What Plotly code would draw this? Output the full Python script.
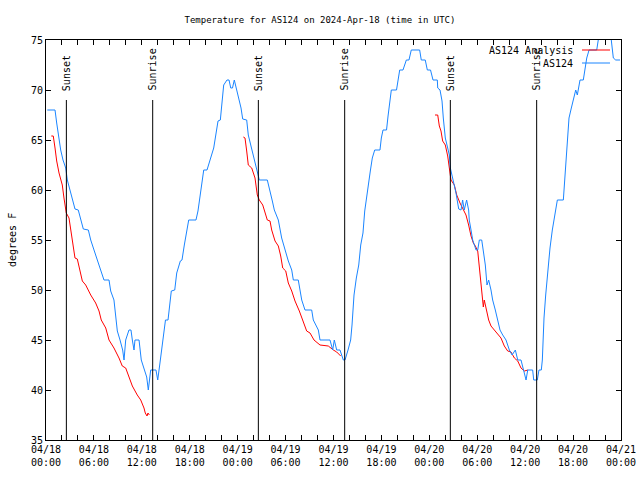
import pandas as pd
import plotly.graph_objects as go

# ---------------- data ----------------
start = "2024-04-18 00:00"

# AS124 observations: hours after 04/18 00:00 UTC, temperature (F)
obs_hours = [0.16, 1.13, 1.34, 1.63, 1.84, 2.13, 2.47, 2.67, 3.01, 3.29, 3.63, 4.04, 4.42, 4.67, 5.30,
             5.60, 6.01, 6.42, 6.92, 7.26, 7.89, 8.10, 8.51, 8.73, 8.93, 9.27, 9.60, 9.77, 9.98, 10.39,
             10.64, 10.81, 11.02, 11.14, 11.65, 11.93, 12.18, 12.61, 12.81, 13.11, 13.77, 13.99, 14.27,
             14.61, 14.96, 15.28, 15.69, 16.12, 16.37, 16.82, 17.03, 17.32, 17.87, 18.78, 19.03, 19.75,
             20.16, 21.00, 21.54, 21.83, 22.25, 22.66, 22.92, 23.13, 23.35, 23.58, 23.92, 24.42, 24.63,
             25.13, 25.33, 25.76, 26.05, 26.38, 26.71, 27.71, 28.05, 28.34, 28.59, 29.09, 29.51, 29.93,
             30.34, 30.77, 30.97, 31.59, 32.02, 32.43, 33.27, 33.47, 34.10, 34.31, 35.56, 35.90, 36.10,
             36.40, 36.81, 37.23, 37.44, 37.82, 38.15, 38.32, 38.57, 38.86, 39.16, 39.41, 39.69, 39.91,
             40.32, 40.61, 40.86, 41.16, 41.82, 41.99, 42.20, 42.64, 42.83, 43.24, 43.89, 44.29, 44.70,
             45.12, 45.45, 45.74, 46.79, 46.99, 47.49, 47.75, 48.15, 48.46, 49.00, 49.05, 49.34, 49.59,
             49.75, 50.00, 50.30, 50.50, 50.63, 50.93, 51.13, 51.34, 51.55, 51.68, 51.97, 52.17, 52.37,
             52.67, 52.92, 53.00, 53.22, 53.43, 53.85, 54.06, 54.26, 54.56, 54.76, 55.01, 55.22, 55.43,
             55.72, 55.93, 56.26, 56.56, 56.85, 57.19, 57.60, 58.02, 58.36, 58.77, 59.07, 59.48, 59.77,
             60.11, 60.32, 60.94, 61.07, 61.52, 61.73, 62.02, 62.15, 62.36, 62.57, 62.86, 63.11, 63.40,
             63.74, 64.03, 64.78, 64.95, 65.20, 65.49, 65.78, 66.12, 66.33, 66.53, 66.87, 67.28, 67.46,
             67.71, 68.00, 68.96, 69.25, 70.71, 71.04, 71.34, 71.88]
obs_temps = [68, 68, 66.7, 65.2, 64, 63, 62.2, 61, 59.9, 59, 58.1, 58, 57, 56.1, 56,
             55, 54, 53, 52, 51, 51, 49.9, 49, 47.5, 45.9, 45, 44, 43, 45, 46,
             46, 45, 44, 45, 45, 43, 42.4, 41.3, 40, 42, 42, 41, 42.7,
             45, 47, 47, 49.9, 50, 51.7, 52.9, 53, 54.5, 57, 57, 57.9, 62,
             62, 64.2, 66.9, 67, 70.5, 71, 71, 70.2, 70.2, 71, 69.9, 68.2, 67.1,
             67, 65.5, 64, 63, 62, 61, 61, 60, 58.9, 58, 57, 55.2, 54,
             52.9, 52, 51, 51, 49, 48, 48, 47, 46, 45, 45, 44, 45,
             44, 44, 43, 43, 44, 45, 46.5, 49.5, 51.2, 52.5, 54.5, 55.7, 57.9,
             60.5, 61.9, 63.2, 64, 64, 65.2, 66, 66, 67.4, 70, 70, 72, 72,
             73, 73, 74, 74, 73, 73, 72, 72, 71, 71, 70.2, 70, 68.9,
             67.2, 65.2, 64.2, 63.5, 62.2, 61.2, 60.5, 59.7, 58.7, 58.1, 58, 59, 58,
             59, 58, 57, 56, 55, 54, 54, 55, 55, 53.9, 52.5, 50.5, 51,
             50, 49, 48, 47, 46, 45.5, 45, 44, 43.5, 44, 43, 43, 42,
             41, 42, 42, 41, 41, 42, 42, 43, 47.2, 49.5, 52.2, 54.2, 56,
             57.5, 59, 59, 61.2, 63.5, 67.2, 68.2, 69.2, 70, 69.5, 71, 71, 72,
             73.2, 74, 74, 75.5, 75.5, 73.2, 73, 73]

# AS124 Analysis (night-time only; None separates nights)
ana_hours = [0.66, 0.91, 1.13, 1.34, 1.63, 1.84, 2.04, 2.25, 2.54, 2.88, 3.09, 3.38, 3.63, 3.92, 4.22,
             4.55, 4.97, 5.60, 6.22, 6.64, 6.92, 7.48, 7.89, 8.51, 9.14, 9.55, 9.98, 10.39, 10.81,
             11.43, 11.86, 12.27, 12.43, 12.65, 12.77, 12.94, 12.95,
             24.71, 24.92, 25.13, 25.33, 25.76, 26.17, 26.46, 26.71, 27.14, 27.42, 27.71, 28.05, 28.26,
             28.68, 29.09, 29.39, 29.64, 30.02, 30.34, 30.77, 31.18, 31.72, 32.14, 32.64, 33.06, 33.56,
             34.31, 35.35, 35.98, 36.40, 36.90, 36.91,
             48.71, 49.05, 49.25, 49.46, 49.67, 50.00, 50.30, 50.50, 50.71, 51.13, 51.43, 51.84, 52.17,
             52.59, 52.92, 53.22, 53.51, 53.76, 54.06, 54.26, 54.47, 54.68, 54.76, 54.88, 55.09, 55.43,
             55.72, 56.13, 56.56, 56.97, 57.39, 57.81, 58.23, 58.65, 59.07, 59.48, 59.90, 60.36]
ana_temps = [65.4, 65.4, 64.2, 62.9, 61.7, 61.2, 60.5, 59.2, 57.7, 57.2, 56, 54.4, 53.2, 53.1, 51.9,
             50.9, 50.5, 49.5, 48.7, 47.9, 47, 46.2, 45, 44.2, 43.2, 42.4, 42.2, 41.2, 40.4,
             39.5, 39, 38.2, 37.7, 37.4, 37.7, 37.5, None,
             65.3, 65.2, 63.9, 62.5, 62.2, 61.2, 59.5, 59, 58.5, 57.7, 57, 56.9, 56,
             54.9, 54.4, 53.4, 52.2, 51.9, 50.7, 49.9, 48.9, 47.9, 47, 45.9, 45.7, 45,
             44.5, 44.4, 44, 43.8, 43.4, None,
             67.5, 67.5, 66.4, 65.9, 64.9, 64.5, 63.4, 62, 61, 60.5, 59.5, 58.7, 58.2,
             57.5, 56.5, 55.4, 54.7, 54.4, 53.9, 52.2, 50.5, 49.2, 48.3, 49, 48.2, 47,
             46.4, 46, 45.5, 45.2, 44.4, 43.9, 43.8, 43.2, 42.9, 42.2, 41.9, 42]

# Sun events (hours after start)
sun_hours = [2.55, 13.36, 26.59, 37.40, 50.63, 61.44]
sun_labels = ["Sunset", "Sunrise", "Sunset", "Sunrise", "Sunset", "Sunrise"]

# x ticks every 2 h, labels every 6 h
tick_hours = list(range(0, 73, 2))
tick_label_map = {0: "04/18<br>00:00", 6: "04/18<br>06:00", 12: "04/18<br>12:00", 18: "04/18<br>18:00",
                  24: "04/19<br>00:00", 30: "04/19<br>06:00", 36: "04/19<br>12:00", 42: "04/19<br>18:00",
                  48: "04/20<br>00:00", 54: "04/20<br>06:00", 60: "04/20<br>12:00", 66: "04/20<br>18:00",
                  72: "04/21<br>00:00"}
y_ticks = [35, 40, 45, 50, 55, 60, 65, 70, 75]

# ---------------- build ----------------
base = pd.Timestamp(start)


def to_time(hs):
    return [base + pd.Timedelta(hours=h) for h in hs]


FONT = "DejaVu Sans Mono"
BLUE = "#1a85ff"
RED = "#ff0000"

fig = go.Figure()
fig.add_trace(go.Scatter(x=to_time(ana_hours), y=ana_temps, mode="lines", name="AS124 Analysis",
                         line=dict(color=RED, width=1), connectgaps=False))
fig.add_trace(go.Scatter(x=to_time(obs_hours), y=obs_temps, mode="lines", name="AS124",
                         line=dict(color=BLUE, width=1)))

sun_times = to_time(sun_hours)
for t, lab in zip(sun_times, sun_labels):
    fig.add_shape(type="line", xref="x", yref="y domain", x0=t, x1=t, y0=0, y1=0.85,
                  line=dict(color="black", width=1))
    fig.add_annotation(x=t, xref="x", y=0.868, yref="y domain", text=lab, textangle=-90,
                       showarrow=False, xanchor="center", yanchor="bottom",
                       font=dict(family=FONT, size=10, color="black"))

# legend (gnuplot style: text right, sample on the right)
leg_items = [("AS124 Analysis", RED, 50), ("AS124", BLUE, 63)]
for txt, col, ypix in leg_items:
    yp = (440 - ypix) / 400
    fig.add_annotation(x=(575 - 46) / 575, xref="paper", y=yp, yref="paper", text=txt,
                       showarrow=False, xanchor="right", yanchor="middle",
                       font=dict(family=FONT, size=10, color="black"))
    fig.add_shape(type="line", xref="paper", yref="paper", x0=(582 - 46) / 575, x1=(610 - 46) / 575,
                  y0=yp, y1=yp, line=dict(color=col, width=1))

fig.add_annotation(x=(12 - 46) / 575, xref="paper", y=0.5, yref="paper", text="degrees F",
                   textangle=-90, showarrow=False, xanchor="center", yanchor="middle",
                   font=dict(family=FONT, size=10, color="black"))

fig.update_layout(
    width=640, height=480,
    margin=dict(l=46, r=19, t=40, b=40, autoexpand=False),
    paper_bgcolor="white", plot_bgcolor="white",
    showlegend=False,
    title=dict(text="Temperature for AS124 on 2024-Apr-18 (time in UTC)", x=0.5, xref="container",
               y=1 - 20 / 480, yref="container", xanchor="center", yanchor="middle",
               font=dict(family=FONT, size=9, color="black")),
    font=dict(family=FONT, size=10, color="black"),
)
fig.update_xaxes(
    type="date", range=[base, base + pd.Timedelta(hours=72)],
    tickmode="array", tickvals=to_time(tick_hours),
    ticktext=[tick_label_map.get(h, "") for h in tick_hours],
    ticks="inside", ticklen=5, tickcolor="black", tickwidth=1,
    showline=True, linecolor="black", linewidth=1, mirror="ticks",
    showgrid=False, zeroline=False, tickangle=0, automargin=False,
    tickfont=dict(family=FONT, size=10, color="black"),
)
fig.update_yaxes(
    range=[35, 75], tickmode="array", tickvals=y_ticks,
    ticks="inside", ticklen=5, tickcolor="black", tickwidth=1,
    showline=True, linecolor="black", linewidth=1, mirror="ticks",
    showgrid=False, zeroline=False, automargin=False,
    tickfont=dict(family=FONT, size=10, color="black"),
)

fig.write_html("out.html", config={"displayModeBar": False},
               post_script="document.body.style.margin='0';document.body.style.padding='0';")
